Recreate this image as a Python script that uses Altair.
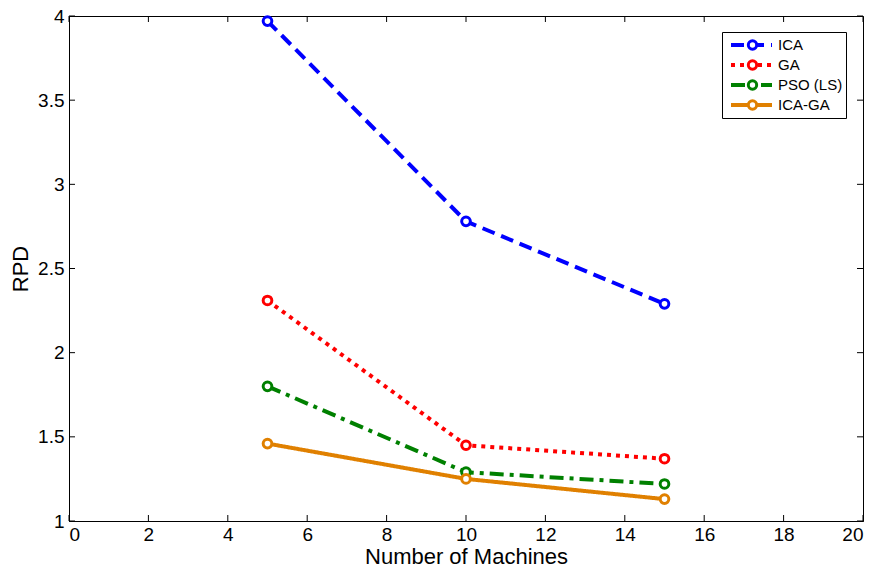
import altair as alt
import pandas as pd

machines = [5, 10, 15]
series_names = ["ICA", "GA", "PSO (LS)", "ICA-GA"]
ica = [3.97, 2.78, 2.29]
ga = [2.31, 1.45, 1.37]
pso = [1.80, 1.29, 1.22]
icaga = [1.46, 1.25, 1.13]
colors = ["#0000FF", "#FF0000", "#008000", "#E08000"]
dashes = [[13, 7], [4, 5], [14, 6, 4, 6], [1, 0]]
x_ticks = [0, 2, 4, 6, 8, 10, 12, 14, 16, 18, 20]
y_ticks = [1, 1.5, 2, 2.5, 3, 3.5, 4]

rows = []
for name, vals in zip(series_names, [ica, ga, pso, icaga]):
    for m, v in zip(machines, vals):
        rows.append({"machines": m, "rpd": v, "series": name, "series_pt": name + " "})
df = pd.DataFrame(rows)

W, H = 794, 505
FONT = "Liberation Sans"

xscale = alt.Scale(domain=[0, 20], nice=False, zero=False)
yscale = alt.Scale(domain=[1, 4], nice=False, zero=False)

axis_style = dict(ticks=False, grid=False, format="~g", labelFont=FONT, titleFont=FONT,
                  labelFontSize=19, titleFontSize=22, labelColor="black", titleColor="black",
                  titleFontWeight="normal", domainColor="black")
xaxis = alt.Axis(values=x_ticks, title="Number of Machines", labelPadding=4,
                 titleY=42, titleBaseline="alphabetic", **axis_style)
yaxis = alt.Axis(values=y_ticks, title="RPD", labelPadding=5,
                 titleX=-42, titleBaseline="alphabetic", **axis_style)

legend_main = dict(title=None, orient="none", legendX=653, legendY=16,
                   symbolType="stroke", symbolSize=1681, symbolStrokeWidth=4,
                   symbolOffset=4, clipHeight=20, rowPadding=0, padding=3,
                   labelFontSize=15, labelFont=FONT, labelOffset=4, labelColor="black",
                   strokeColor="black", fillColor="white")

base = alt.Chart(df)

lines = base.mark_line(strokeWidth=4).encode(
    x=alt.X("machines:Q", scale=xscale, axis=xaxis),
    y=alt.Y("rpd:Q", scale=yscale, axis=yaxis),
    color=alt.Color("series:N", scale=alt.Scale(domain=series_names, range=colors),
                    legend=alt.Legend(**legend_main)),
    strokeDash=alt.StrokeDash("series:N", scale=alt.Scale(domain=series_names, range=dashes),
                              legend=alt.Legend(**legend_main)),
)

pt_domain = [n + " " for n in series_names]
points = base.mark_point(filled=True, fill="white", size=75, strokeWidth=3, opacity=1).encode(
    x=alt.X("machines:Q", scale=xscale),
    y=alt.Y("rpd:Q", scale=yscale),
    stroke=alt.Stroke("series_pt:N", scale=alt.Scale(domain=pt_domain, range=colors),
                      legend=alt.Legend(title=None, orient="none", legendX=653, legendY=16,
                                        symbolType="circle", symbolSize=70, symbolStrokeWidth=3,
                                        symbolFillColor="white", symbolOffset=20,
                                        clipHeight=20, rowPadding=0, padding=3,
                                        labelFontSize=15, labelFont=FONT, labelOffset=4,
                                        labelExpr="''")),
)

xt = alt.Chart(pd.DataFrame({"t": x_ticks}))
yt = alt.Chart(pd.DataFrame({"t": y_ticks}))
tick_bottom = xt.mark_rule(color="black", strokeWidth=1).encode(
    x=alt.X("t:Q", scale=xscale), y=alt.value(H), y2=alt.value(H - 6))
tick_top = xt.mark_rule(color="black", strokeWidth=1).encode(
    x=alt.X("t:Q", scale=xscale), y=alt.value(0), y2=alt.value(6))
tick_left = yt.mark_rule(color="black", strokeWidth=1).encode(
    y=alt.Y("t:Q", scale=yscale), x=alt.value(0), x2=alt.value(6))
tick_right = yt.mark_rule(color="black", strokeWidth=1).encode(
    y=alt.Y("t:Q", scale=yscale), x=alt.value(W), x2=alt.value(W - 6))

chart = alt.layer(tick_bottom, tick_top, tick_left, tick_right, lines, points).properties(
    width=W, height=H,
    autosize=alt.AutoSizeParams(type="none"),
    padding={"left": 61, "top": 8, "right": 6, "bottom": 46},
).configure_view(stroke="black", strokeWidth=1)

chart.save("out.html", embed_options={"renderer": "svg", "actions": False})
